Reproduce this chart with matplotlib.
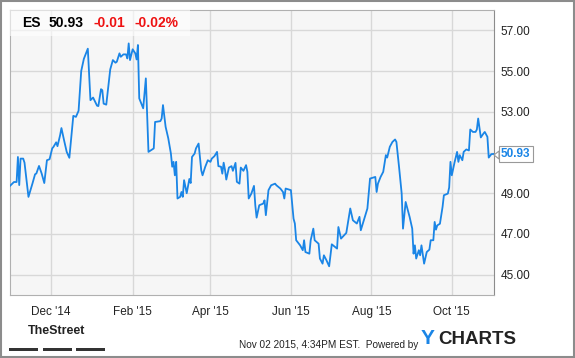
import pandas as pd
import matplotlib
matplotlib.use("Agg")
import matplotlib.pyplot as plt
import matplotlib.dates as mdates
from matplotlib.patches import Rectangle, Polygon

plt.rcParams['font.family'] = ['Liberation Sans', 'DejaVu Sans']

# ===== data (ES price) =====
dates = [
    "2014-10-31", "2014-11-03", "2014-11-05", "2014-11-06", "2014-11-07", "2014-11-08",
    "2014-11-10", "2014-11-11", "2014-11-14", "2014-11-17", "2014-11-19", "2014-11-20",
    "2014-11-22", "2014-11-24", "2014-11-26", "2014-11-28", "2014-11-30", "2014-12-02",
    "2014-12-03", "2014-12-05", "2014-12-06", "2014-12-08", "2014-12-09", "2014-12-11",
    "2014-12-13", "2014-12-15", "2014-12-18", "2014-12-20", "2014-12-22", "2014-12-24",
    "2014-12-26", "2014-12-29", "2014-12-31", "2015-01-02", "2015-01-05", "2015-01-06",
    "2015-01-08", "2015-01-09", "2015-01-10", "2015-01-12", "2015-01-15", "2015-01-17",
    "2015-01-19", "2015-01-20", "2015-01-22", "2015-01-23", "2015-01-25", "2015-01-27",
    "2015-01-28", "2015-01-29", "2015-01-30", "2015-02-01", "2015-02-03", "2015-02-04",
    "2015-02-05", "2015-02-06", "2015-02-09", "2015-02-11", "2015-02-13", "2015-02-17",
    "2015-02-18", "2015-02-22", "2015-02-23", "2015-02-24", "2015-02-26", "2015-02-28",
    "2015-03-02", "2015-03-03", "2015-03-04", "2015-03-05", "2015-03-06", "2015-03-07",
    "2015-03-09", "2015-03-10", "2015-03-11", "2015-03-12", "2015-03-14", "2015-03-16",
    "2015-03-17", "2015-03-18", "2015-03-20", "2015-03-21", "2015-03-23", "2015-03-25",
    "2015-03-26", "2015-03-28", "2015-03-30", "2015-04-01", "2015-04-02", "2015-04-04",
    "2015-04-06", "2015-04-07", "2015-04-09", "2015-04-10", "2015-04-11", "2015-04-12",
    "2015-04-13", "2015-04-15", "2015-04-17", "2015-04-18", "2015-04-20", "2015-04-21",
    "2015-04-23", "2015-04-24", "2015-04-26", "2015-04-28", "2015-04-29", "2015-04-30",
    "2015-05-02", "2015-05-04", "2015-05-05", "2015-05-06", "2015-05-08", "2015-05-11",
    "2015-05-12", "2015-05-13", "2015-05-15", "2015-05-17", "2015-05-20", "2015-05-21",
    "2015-05-24", "2015-05-26", "2015-05-27", "2015-05-28", "2015-06-01", "2015-06-03",
    "2015-06-04", "2015-06-05", "2015-06-08", "2015-06-10", "2015-06-11", "2015-06-12",
    "2015-06-15", "2015-06-16", "2015-06-18", "2015-06-19", "2015-06-22", "2015-06-23",
    "2015-06-25", "2015-06-26", "2015-06-28", "2015-06-30", "2015-07-02", "2015-07-06",
    "2015-07-07", "2015-07-09", "2015-07-13", "2015-07-16", "2015-07-18", "2015-07-21",
    "2015-07-23", "2015-07-24", "2015-07-29", "2015-07-31", "2015-08-04", "2015-08-05",
    "2015-08-06", "2015-08-08", "2015-08-10", "2015-08-12", "2015-08-13", "2015-08-15",
    "2015-08-17", "2015-08-19", "2015-08-20", "2015-08-22", "2015-08-24", "2015-08-25",
    "2015-08-27", "2015-08-30", "2015-09-01", "2015-09-02", "2015-09-03", "2015-09-04",
    "2015-09-06", "2015-09-07", "2015-09-08", "2015-09-10", "2015-09-12", "2015-09-14",
    "2015-09-15", "2015-09-17", "2015-09-18", "2015-09-19", "2015-09-20", "2015-09-22",
    "2015-09-24", "2015-09-25", "2015-09-28", "2015-09-29", "2015-09-30", "2015-10-01",
    "2015-10-03", "2015-10-05", "2015-10-06", "2015-10-07", "2015-10-09", "2015-10-10",
    "2015-10-12", "2015-10-14", "2015-10-15", "2015-10-17", "2015-10-19", "2015-10-20",
    "2015-10-21", "2015-10-23", "2015-10-25", "2015-10-26", "2015-10-28", "2015-10-29",
    "2015-10-31", "2015-11-02",
]
prices = [
    49.36, 49.55, 49.55, 50.78, 49.40, 50.70,
    50.70, 50.50, 48.82, 49.47, 49.93, 49.97,
    50.34, 49.97, 49.50, 50.62, 50.67, 51.20,
    51.28, 51.50, 51.31, 51.85, 52.20, 51.60,
    51.03, 50.74, 52.80, 52.75, 53.05, 55.00,
    55.60, 56.10, 53.57, 53.70, 53.30, 53.28,
    54.11, 54.06, 53.40, 53.35, 55.08, 55.54,
    55.41, 55.46, 55.87, 55.70, 55.82, 55.82,
    55.62, 56.36, 55.54, 56.07, 55.87, 55.57,
    56.28, 53.66, 53.17, 54.64, 51.03, 51.20,
    52.50, 52.54, 52.67, 53.33, 52.26, 51.70,
    50.95, 50.30, 50.54, 49.88, 50.54, 48.74,
    48.82, 49.06, 48.82, 49.64, 49.00, 49.70,
    49.50, 50.78, 50.95, 51.20, 51.44, 50.13,
    49.88, 50.29, 50.62, 50.54, 50.70, 50.82,
    51.03, 50.33, 50.30, 49.96, 50.50, 50.16,
    49.67, 50.26, 50.33, 50.10, 50.49, 49.56,
    49.47, 50.26, 50.10, 50.38, 50.05, 48.74,
    48.98, 49.36, 48.41, 47.80, 48.41, 48.49,
    48.65, 47.92, 49.15, 49.39, 49.47, 49.39,
    49.23, 49.06, 48.74, 49.23, 49.15, 47.75,
    47.51, 46.69, 46.44, 46.20, 46.69, 46.11,
    46.03, 46.69, 47.26, 46.69, 46.52, 45.79,
    45.54, 45.95, 45.70, 45.41, 46.49, 46.28,
    47.34, 46.77, 47.05, 48.25, 47.67, 47.51,
    47.84, 47.18, 48.25, 49.72, 49.80, 49.06,
    49.47, 49.80, 50.05, 50.87, 50.75, 51.28,
    51.52, 51.64, 51.52, 50.29, 48.98, 47.26,
    48.57, 47.84, 47.26, 46.03, 46.44, 45.79,
    46.20, 45.95, 46.44, 45.54, 46.11, 46.23,
    46.69, 46.69, 47.59, 47.21, 47.42, 47.50,
    48.33, 48.90, 48.98, 49.28, 50.54, 49.88,
    50.49, 51.03, 50.54, 50.87, 50.62, 51.03,
    51.15, 51.10, 52.13, 52.01, 52.01, 52.13,
    52.67, 51.74, 51.93, 52.01, 51.77, 50.75,
    50.92, 50.93,
]
ticker = "ES"
last_price = "50.93"
change = "-0.01"
change_pct = "-0.02%"
y_ticks = [45, 47, 49, 51, 53, 55, 57]

line_color = "#1a85e6"
dates = pd.to_datetime(dates)

fig = plt.figure(figsize=(5.75, 3.58), dpi=100)
fig.patches.append(Rectangle((0.001, 0.002), 0.997, 0.996, transform=fig.transFigure,
                             fill=False, edgecolor="#8c8c8c", linewidth=1.5))

ax = fig.add_axes([10 / 575, 1 - 295 / 358, 484 / 575, 285 / 358])
ax.set_facecolor("#f6f6f6")
ax.plot(dates, prices, color=line_color, linewidth=1.3, zorder=3)

ax.set_xlim(pd.Timestamp("2014-10-31"), pd.Timestamp("2015-11-02"))
ax.set_ylim(44, 58)

ax.xaxis.set_major_locator(mdates.MonthLocator(bymonth=[12, 2, 4, 6, 8, 10]))
ax.xaxis.set_major_formatter(mdates.DateFormatter("%b '%y"))
ax.set_yticks(y_ticks)
ax.yaxis.set_major_formatter(plt.FormatStrFormatter("%.2f"))
ax.yaxis.tick_right()
ax.tick_params(axis="both", length=0, labelsize=8.5, colors="#222222")
ax.tick_params(axis="x", pad=8)
ax.tick_params(axis="y", pad=4.5)
ax.grid(True, color="#d8d8d8", linewidth=1)
ax.set_axisbelow(True)
for side in ["top", "left", "bottom"]:
    ax.spines[side].set_color("#b0b0b0")
ax.spines["right"].set_color("#8c8c8c")

# header box
ax.add_patch(Rectangle((0, 0.908), 0.372, 0.092, transform=ax.transAxes,
                       facecolor="white", alpha=0.6, edgecolor="none", zorder=4))
hy = 0.953
ax.text(0.025, hy, ticker, transform=ax.transAxes, fontsize=10, fontweight="bold",
        va="center", zorder=5)
ax.text(0.079, hy, last_price, transform=ax.transAxes, fontsize=10, fontweight="bold",
        va="center", zorder=5)
ax.text(0.173, hy, change, transform=ax.transAxes, fontsize=10, fontweight="bold",
        color="#ee1111", va="center", zorder=5)
ax.text(0.258, hy, change_pct, transform=ax.transAxes, fontsize=10, fontweight="bold",
        color="#ee1111", va="center", zorder=5)

# last value tag with small pointer
ax.annotate(last_price, xy=(1.0, prices[-1]), xycoords=("axes fraction", "data"),
            xytext=(5, 0), textcoords="offset points", fontsize=8.5, fontweight="bold",
            color=line_color, va="center", ha="left", annotation_clip=False,
            bbox=dict(boxstyle="square,pad=0.2", facecolor="white", edgecolor="#999999",
                      linewidth=0.8), zorder=6)
ptr_y = 1 - 155 / 358
fig.patches.append(Polygon([(494 / 575, ptr_y), (499 / 575, ptr_y + 4 / 358),
                            (499 / 575, ptr_y - 4 / 358)], closed=True,
                           transform=fig.transFigure, facecolor="white",
                           edgecolor="#999999", linewidth=0.8, zorder=7))

# footer
fig.text(57 / 575, 1 - 331 / 358, "TheStreet", fontsize=9, fontweight="bold",
         ha="center", va="center", color="#222222")
for x0 in [9, 43, 76]:
    fig.patches.append(Rectangle((x0 / 575, 1 - 351 / 358), 29 / 575, 3 / 358,
                                 transform=fig.transFigure, facecolor="#333333",
                                 edgecolor="none"))
fig.text(418 / 575, 1 - 345 / 358, "Nov 02 2015, 4:34PM EST.  Powered by", fontsize=7.2,
         ha="right", va="center", color="#222222")
fig.text(421 / 575, 1 - 339 / 358, "Y", fontsize=15, fontweight="bold",
         color="#1a85e6", ha="left", va="center")
fig.text(438 / 575, 1 - 339 / 358, "CHARTS", fontsize=13.5, fontweight="bold",
         color="#222222", ha="left", va="center")

fig.savefig("out.png", dpi=100)
